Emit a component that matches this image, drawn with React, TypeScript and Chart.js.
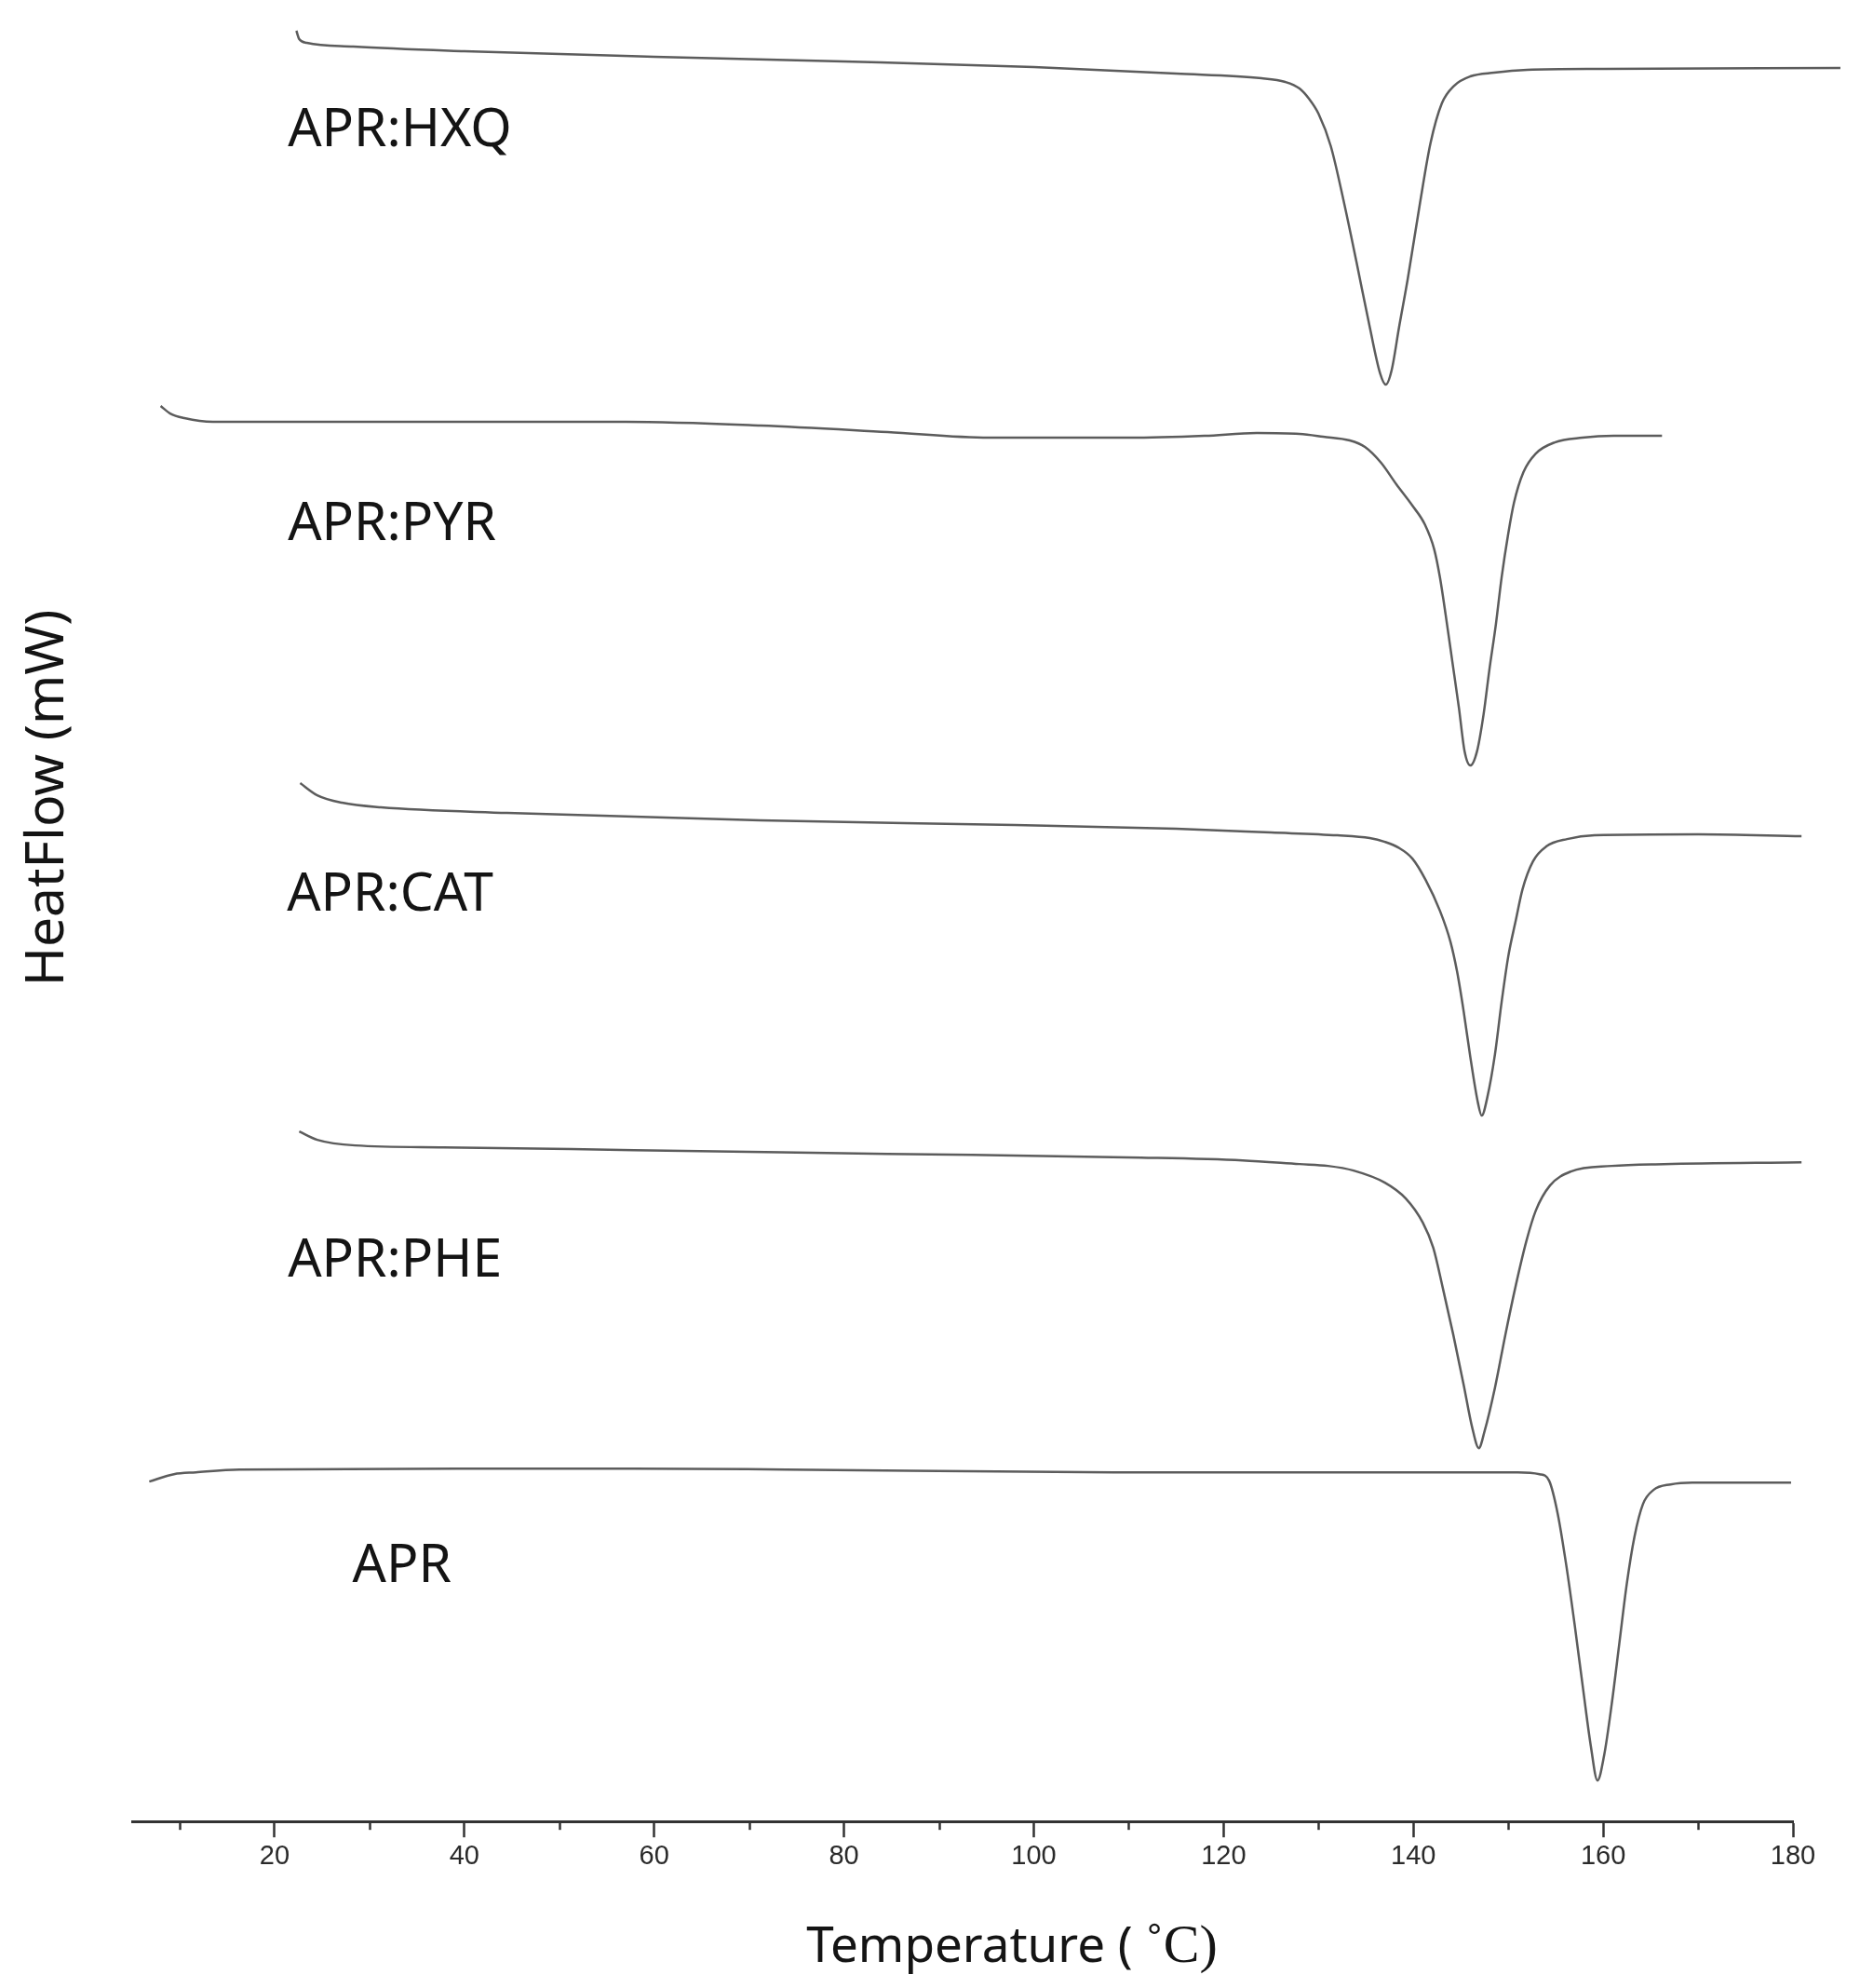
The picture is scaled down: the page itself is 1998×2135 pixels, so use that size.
import React, { useEffect, useRef } from "react";
import { Chart, registerables } from "chart.js";

Chart.register(...registerables);

// ---- Data (temperature in °C, heat flow in mW, curves vertically offset) ----
const hxqTemp = [22.3, 22.6, 23.4, 28.3, 40, 60, 80, 100, 115, 124, 126.5, 128.0, 129.0, 130.0, 131.3, 132.7, 134.0, 135.4, 136.5, 137.1, 137.7, 138.5, 139.4, 140.7, 141.8, 143.0, 144.3, 146.0, 148.5, 152.0, 160.0, 185.0];
const hxqFlow = [19.23, 19.14, 19.10, 19.06, 19.01, 18.95, 18.90, 18.84, 18.77, 18.72, 18.68, 18.61, 18.50, 18.34, 17.99, 17.38, 16.75, 16.05, 15.55, 15.43, 15.58, 16.05, 16.56, 17.38, 18.02, 18.45, 18.64, 18.74, 18.78, 18.81, 18.82, 18.83];

const pyrTemp = [8.0, 9.0, 10.5, 13.5, 20, 40, 57, 71.2, 84.6, 95.3, 110, 118, 123.5, 128.0, 130.5, 133.3, 134.9, 136.6, 138.2, 139.9, 141.2, 142.2, 142.8, 143.4, 144.1, 144.8, 145.4, 146.0, 146.7, 147.4, 148.0, 148.7, 149.3, 150.0, 150.6, 151.6, 152.9, 154.9, 157.8, 161.1, 166.2];
const pyrFlow = [15.20, 15.12, 15.07, 15.03, 15.03, 15.03, 15.03, 14.99, 14.92, 14.86, 14.86, 14.88, 14.91, 14.90, 14.87, 14.83, 14.76, 14.59, 14.36, 14.13, 13.93, 13.66, 13.36, 12.96, 12.46, 11.96, 11.49, 11.34, 11.49, 11.89, 12.36, 12.86, 13.36, 13.83, 14.16, 14.49, 14.69, 14.81, 14.86, 14.88, 14.88];

const catTemp = [22.7, 24.5, 27.1, 31.2, 44.5, 71.2, 98.0, 115, 125, 132, 135.4, 137.0, 138.4, 139.9, 141.3, 142.8, 143.9, 144.6, 145.3, 146.0, 146.8, 147.2, 147.8, 148.6, 149.3, 150.0, 150.8, 151.5, 152.6, 154.0, 156.2, 159.1, 170.0, 180.9];
const catFlow = [11.15, 11.02, 10.94, 10.89, 10.83, 10.75, 10.70, 10.66, 10.62, 10.59, 10.56, 10.52, 10.46, 10.34, 10.11, 9.78, 9.45, 9.13, 8.70, 8.21, 7.72, 7.58, 7.78, 8.24, 8.80, 9.29, 9.68, 10.01, 10.31, 10.47, 10.55, 10.59, 10.60, 10.58];

const pheTemp = [22.6, 24.5, 28.5, 37.8, 57.9, 84.6, 111.3, 122, 128, 131, 133.7, 137.0, 139.2, 141.0, 142.1, 143.1, 144.2, 145.3, 146.2, 146.9, 147.5, 148.6, 149.7, 150.8, 151.9, 152.9, 154.4, 156.6, 160.9, 166.4, 180.9];
const pheFlow = [7.41, 7.32, 7.26, 7.24, 7.21, 7.17, 7.13, 7.10, 7.06, 7.04, 6.99, 6.86, 6.69, 6.43, 6.16, 5.73, 5.23, 4.69, 4.23, 4.01, 4.19, 4.66, 5.23, 5.76, 6.23, 6.56, 6.83, 6.98, 7.04, 7.06, 7.08];

const aprTemp = [6.8, 9.4, 11.7, 16.3, 39.3, 57.7, 73.9, 108.4, 151.0, 153.3, 154.3, 155.2, 156.1, 157.0, 157.9, 158.7, 159.4, 160.1, 160.9, 161.7, 162.5, 163.3, 164.2, 165.3, 167.1, 169.4, 179.8];
const aprFlow = [3.65, 3.73, 3.75, 3.78, 3.79, 3.79, 3.78, 3.75, 3.75, 3.73, 3.66, 3.31, 2.76, 2.11, 1.41, 0.81, 0.44, 0.71, 1.26, 1.91, 2.56, 3.06, 3.41, 3.56, 3.62, 3.64, 3.64];

const seriesNames = ["APR:HXQ", "APR:PYR", "APR:CAT", "APR:PHE", "APR"];
const seriesTemps = [hxqTemp, pyrTemp, catTemp, pheTemp, aprTemp];
const seriesFlows = [hxqFlow, pyrFlow, catFlow, pheFlow, aprFlow];

// curve label anchors (temperature, heat flow)
const labelTemps = [21.4, 21.4, 21.3, 21.4, 28.2];
const labelFlows = [17.99, 13.76, 9.78, 5.85, 2.57];

const majorTicks = [20, 40, 60, 80, 100, 120, 140, 160, 180];
const minorTicks = [10, 30, 50, 70, 90, 110, 130, 150, 170];

const xMin = 5;
const xMax = 180;
const yMin = 0;
const yMax = 19.5;

const xTitleMain = "Temperature ( ";
const xTitleUnit = "˚C)";
const yTitle = "HeatFlow (mW)";

const LINE = "#5c5c5c";
const AXIS = "#333333";
const SANS = '"Noto Sans", "DejaVu Sans", sans-serif';

const overlayPlugin = {
  id: "overlay",
  afterDraw(chart: any) {
    const ctx = chart.ctx;
    const xs = chart.scales.x;
    const ys = chart.scales.y;
    const area = chart.chartArea;
    ctx.save();
    // minor ticks
    ctx.strokeStyle = AXIS;
    ctx.lineWidth = 2.5;
    minorTicks.forEach((t) => {
      const px = Math.round(xs.getPixelForValue(t)) + 0.5;
      ctx.beginPath();
      ctx.moveTo(px, area.bottom);
      ctx.lineTo(px, area.bottom + 9);
      ctx.stroke();
    });
    // curve labels
    ctx.fillStyle = "#141414";
    ctx.font = `57px ${SANS}`;
    ctx.textAlign = "left";
    ctx.textBaseline = "alphabetic";
    seriesNames.forEach((n, i) => {
      ctx.fillText(n, xs.getPixelForValue(labelTemps[i]), ys.getPixelForValue(labelFlows[i]));
    });
    // y title
    ctx.save();
    ctx.translate(52, 857);
    ctx.rotate(-Math.PI / 2);
    ctx.textAlign = "center";
    ctx.textBaseline = "middle";
    ctx.font = `57px ${SANS}`;
    ctx.fillText(yTitle, 0, 0);
    ctx.restore();
    // x title (mixed fonts)
    const sansFont = `53px ${SANS}`;
    const serifFont = `58px "Liberation Serif", "DejaVu Serif", serif`;
    ctx.font = sansFont;
    const w1 = ctx.measureText(xTitleMain).width;
    ctx.font = serifFont;
    const w2 = ctx.measureText(xTitleUnit).width;
    const cx = 1087;
    const baseY = 2107;
    const start = cx - (w1 + w2) / 2;
    ctx.textAlign = "left";
    ctx.font = sansFont;
    ctx.fillText(xTitleMain, start, baseY);
    ctx.font = serifFont;
    ctx.fillText(xTitleUnit, start + w1, baseY);
    ctx.restore();
  },
};

export default function App() {
  const ref = useRef<HTMLCanvasElement | null>(null);
  useEffect(() => {
    if (!ref.current) return;
    const datasets = seriesNames.map((name, i) => ({
      label: name,
      data: seriesTemps[i].map((t, j) => ({ x: t, y: seriesFlows[i][j] })),
      borderColor: LINE,
      borderWidth: 2.5,
      pointRadius: 0,
      fill: false,
      cubicInterpolationMode: "monotone" as const,
      clip: false as any,
    }));
    const chart = new Chart(ref.current, {
      type: "line",
      data: { datasets },
      options: {
        animation: false,
        responsive: false,
        devicePixelRatio: 1,
        layout: { padding: { left: 142, right: 72, top: 6, bottom: 121 } },
        plugins: { legend: { display: false }, tooltip: { enabled: false }, title: { display: false } },
        scales: {
          x: {
            type: "linear",
            min: xMin,
            max: xMax,
            afterBuildTicks: (scale: any) => {
              scale.ticks = majorTicks.map((v) => ({ value: v }));
            },
            ticks: {
              padding: 3,
              maxRotation: 0,
              autoSkip: false,
              color: "#2a2a2a",
              font: { family: '"Liberation Sans Narrow", "Liberation Sans", sans-serif', size: 29 },
              callback: (v: any) => String(v),
            },
            grid: {
              display: true,
              drawOnChartArea: false,
              drawTicks: true,
              tickLength: 17,
              tickWidth: 2.5,
              tickColor: AXIS,
            },
            border: { display: true, color: AXIS, width: 3 },
          },
          y: {
            type: "linear",
            min: yMin,
            max: yMax,
            display: false,
          },
        },
      },
      plugins: [overlayPlugin],
    });
    return () => chart.destroy();
  }, []);
  return (
    <div style={{ position: "absolute", left: 0, top: 0, width: 1998, height: 2135, background: "#fff" }}>
      <canvas ref={ref} width={1998} height={2135} style={{ display: "block" }} />
    </div>
  );
}
